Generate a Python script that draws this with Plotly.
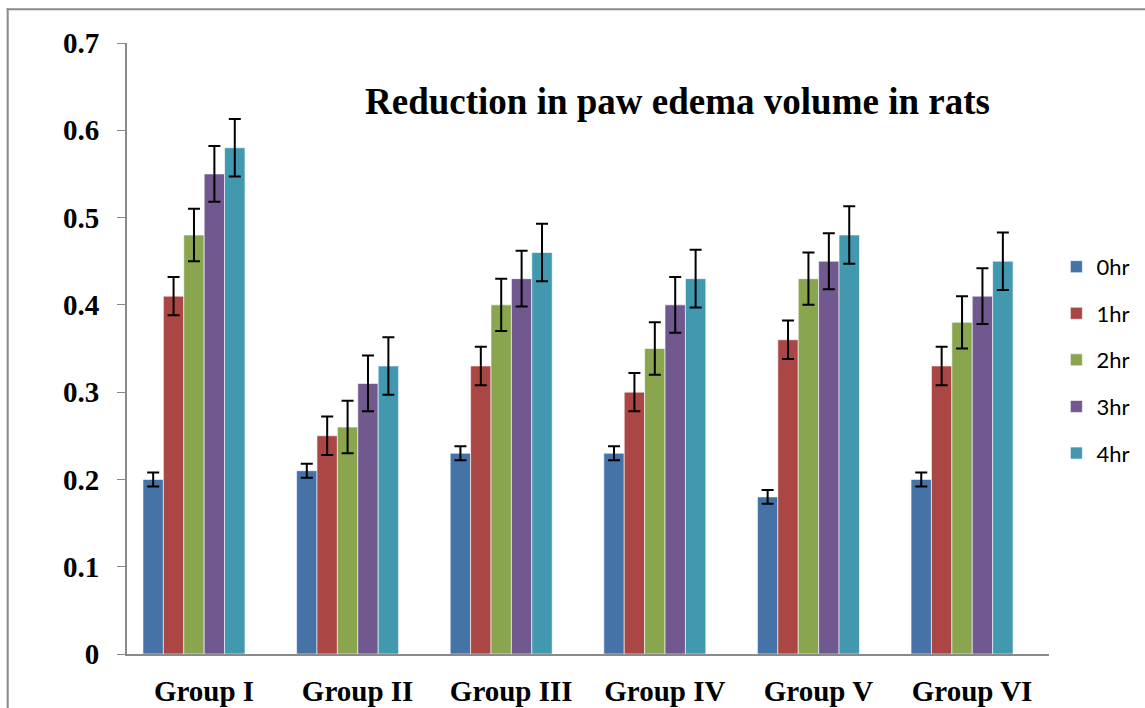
import plotly.graph_objects as go

groups = ["Group I", "Group II", "Group III", "Group IV", "Group V", "Group VI"]
series_names = ["0hr", "1hr", "2hr", "3hr", "4hr"]

hr0 = [0.20, 0.21, 0.23, 0.23, 0.18, 0.20]
hr1 = [0.41, 0.25, 0.33, 0.30, 0.36, 0.33]
hr2 = [0.48, 0.26, 0.40, 0.35, 0.43, 0.38]
hr3 = [0.55, 0.31, 0.43, 0.40, 0.45, 0.41]
hr4 = [0.58, 0.33, 0.46, 0.43, 0.48, 0.45]

err0 = [0.008] * 6
err1 = [0.022] * 6
err2 = [0.030] * 6
err3 = [0.032] * 6
err4 = [0.033] * 6

values = [hr0, hr1, hr2, hr3, hr4]
errors = [err0, err1, err2, err3, err4]
colors = ["#4572A7", "#AA4643", "#89A54E", "#71588F", "#4198AF"]

fig = go.Figure()
for name, vals, errs, col in zip(series_names, values, errors, colors):
    fig.add_trace(go.Bar(
        name=name, x=groups, y=vals,
        marker=dict(color=col, line=dict(color="rgba(255,255,255,0.6)", width=1)),
        error_y=dict(type="data", array=errs, visible=True, color="black",
                     thickness=2, width=6),
        legendgroup=name,
    ))

serif = "Liberation Serif, Times New Roman, serif"
gray = "#8a8a8a"

fig.update_layout(
    width=1145, height=708,
    paper_bgcolor="white", plot_bgcolor="white",
    margin=dict(l=127, r=96, t=43, b=54, autoexpand=False),
    barmode="group", bargap=0.336, bargroupgap=0,
    showlegend=True,
    legend=dict(x=1.008, y=0.668, xanchor="left", yanchor="top",
                font=dict(family="Lato, Liberation Sans, sans-serif", size=22, color="black"),
                traceorder="grouped", tracegroupgap=15,
                itemwidth=30, bgcolor="rgba(0,0,0,0)"),
    annotations=[dict(text="<b>Reduction in paw edema volume in rats</b>",
                      xref="paper", yref="paper", x=0.597, y=0.905,
                      xanchor="center", yanchor="middle", showarrow=False,
                      font=dict(family=serif, size=37, color="black"))],
    shapes=[
        # outer chart frame (top edge and left edge)
        dict(type="rect", xref="paper", yref="paper", layer="above",
             x0=-0.1305, y0=1.0535, x1=1.25, y1=1.0568,
             fillcolor=gray, line=dict(width=0)),
        dict(type="rect", xref="paper", yref="paper", layer="above",
             x0=-0.1305, y0=1.0568, x1=-0.1283, y1=-0.2,
             fillcolor=gray, line=dict(width=0)),
    ],
)

fig.update_yaxes(range=[0, 0.7], dtick=0.1, tick0=0, showgrid=False, zeroline=False,
                 showline=True, linecolor=gray, linewidth=2, automargin=False,
                 ticks="outside", ticklen=8, tickcolor=gray, tickwidth=1,
                 ticklabelstandoff=12, tickformat="~g",
                 tickfont=dict(family=serif, size=29, color="black"),
                 tickprefix="<b>", ticksuffix="</b>")
fig.update_xaxes(range=[-0.436, 5.566], showgrid=False, showline=True,
                 linecolor=gray, linewidth=2, automargin=False,
                 ticks="", ticklabelstandoff=10, ticklabelshift=10,
                 tickfont=dict(family=serif, size=29, color="black"),
                 tickprefix="<b>", ticksuffix="</b>")

fig.write_html("out.html", config={"displayModeBar": False},
               post_script="document.body.style.margin='0';document.body.style.overflow='hidden';")
